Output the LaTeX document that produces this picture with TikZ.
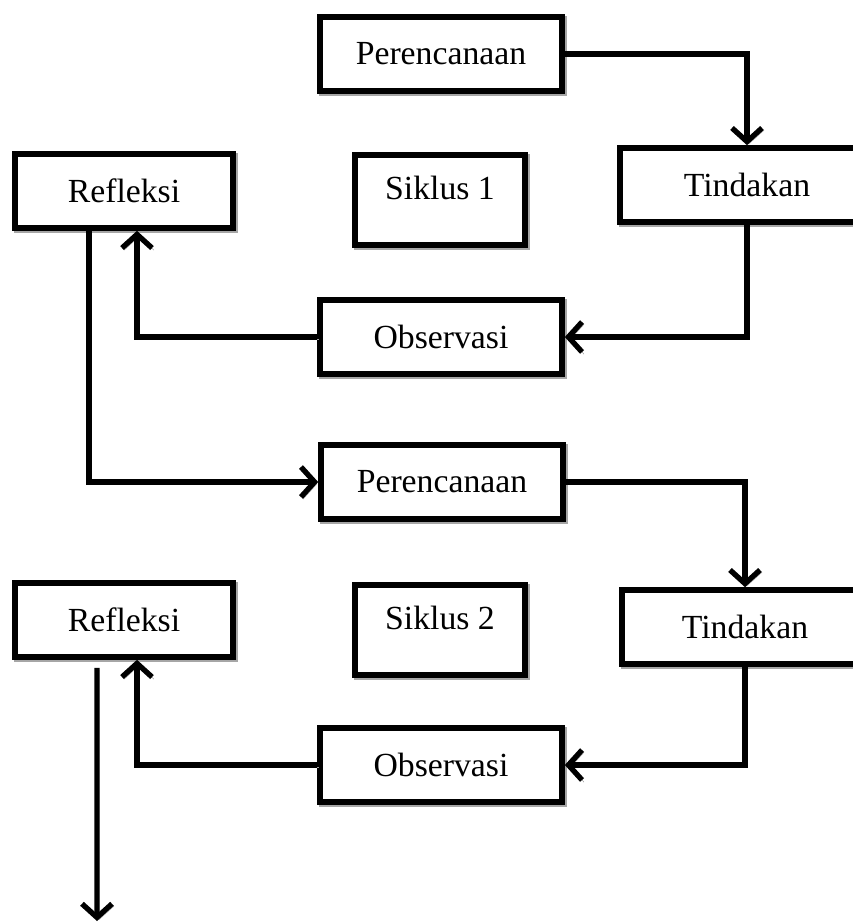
\documentclass[tikz,border=0pt]{standalone}
\usepackage{fontspec}
\setmainfont{Liberation Serif}
\usetikzlibrary{arrows.meta}

\begin{document}
\begin{tikzpicture}[
  x=0.25mm, y=-0.25mm,
  font=\fontsize{24}{28}\selectfont,
  shade/.style={preaction={draw=black!35, transform canvas={shift={(0.5mm,-0.55mm)}}}},
  stepbox/.style={draw, fill=white, line width=4pt, inner sep=0pt,
                  minimum width=60.5mm, minimum height=18.5mm, shade},
  cyclebox/.style={draw, fill=white, line width=4pt, inner sep=0pt,
                   minimum width=42.5mm, minimum height=22.5mm, text depth=6mm, shade},
  flow/.style={line width=3.8pt, -{Straight Barb[length=3.4mm, width=7.5mm]}, shade},
]
  \useasboundingbox (0,0) rectangle (852,924);

  % Siklus 1
  \node[stepbox] (p1) at (441,54) {Perencanaan};
  \node[stepbox, minimum width=63.5mm] (t1) at (747,185) {Tindakan};
  \node[stepbox, minimum width=54.5mm] (r1) at (124,191) {Refleksi};
  \node[cyclebox] (s1) at (440,200) {Siklus 1};
  \node[stepbox] (o1) at (441,337) {Observasi};

  \draw[flow] (p1.east) -| (t1.north);
  \draw[flow] (t1.south) |- (o1.east);
  \draw[flow] (o1.west) -| ([xshift=3.25mm]r1.south);

  % Siklus 2
  \node[stepbox] (p2) at (442,482) {Perencanaan};
  \node[stepbox, minimum width=61.5mm] (t2) at (745,627) {Tindakan};
  \node[stepbox, minimum width=54.5mm] (r2) at (124,620) {Refleksi};
  \node[cyclebox] (s2) at (440,630) {Siklus 2};
  \node[stepbox] (o2) at (441,765) {Observasi};
  \coordinate (next) at (97,921);

  \draw[flow] ([xshift=-8.75mm]r1.south) |- (p2.west);
  \draw[flow] (p2.east) -| (t2.north);
  \draw[flow] (t2.south) |- (o2.east);
  \draw[flow] (o2.west) -| ([xshift=3.25mm]r2.south);
  \draw[flow] ([xshift=-6.75mm, yshift=-2mm]r2.south) -- (next);
\end{tikzpicture}
\end{document}
